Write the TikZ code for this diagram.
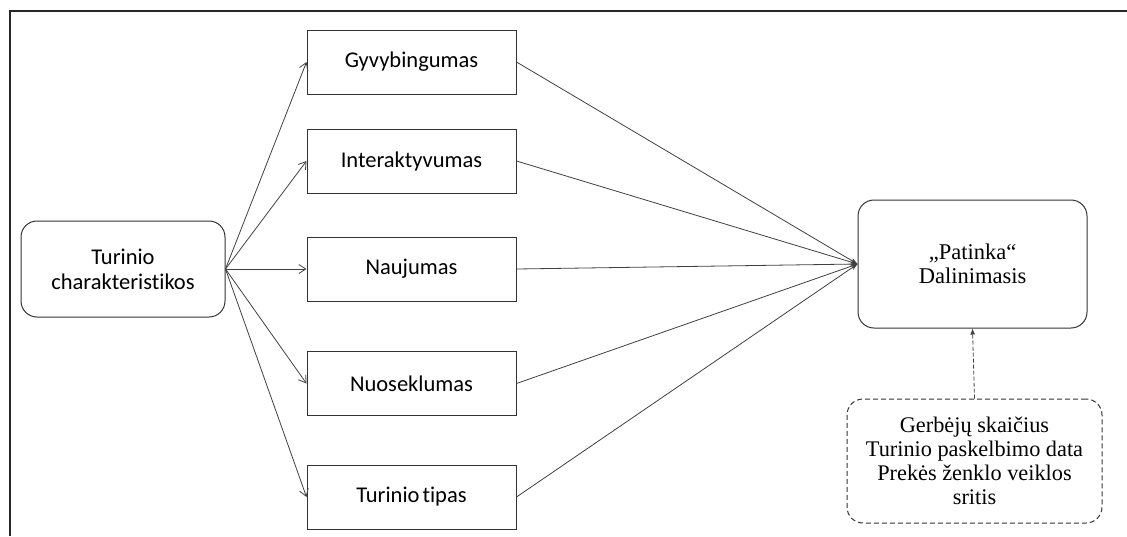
\documentclass[tikz,border=0pt]{standalone}
\usepackage{fontspec}
\setmainfont{Liberation Serif}
\newfontfamily\carlito[Ligatures=NoCommon]{Carlito}
\usetikzlibrary{arrows.meta}
\definecolor{edge}{HTML}{333333}
\definecolor{wire}{HTML}{404040}
\tikzset{
  sqbox/.style={draw=edge, line width=1pt, minimum width=209pt, minimum height=64pt,
    inner sep=0pt, font=\carlito\fontsize{22.5}{25}\selectfont},
  rbox/.style={draw=edge, line width=1pt, rounded corners=16pt, inner sep=0pt, align=center},
  fanout/.style={draw=wire, line width=0.8pt, -{Straight Barb[length=7pt,width=9pt]}},
  fanin/.style={draw=wire, line width=0.8pt, -{Stealth[length=7pt,width=5pt]}},
}
\begin{document}
\begin{tikzpicture}[x=1pt,y=-1pt]
\useasboundingbox (0,0) rectangle (1127,536);
% frame edges
\draw[line width=2pt, black!85] (9.5,536) -- (9.5,10.5) -- (1127,10.5);

% source node
\node[rbox, minimum width=204pt, minimum height=96pt,
      font=\carlito\fontsize{22.5}{25}\selectfont] (src) at (123,269)
      {Turinio\\charakteristikos};

% characteristics
\node[sqbox] (g) at (411.5,62)  {Gyvybingumas};
\node[sqbox] (i) at (411.5,161) {Interaktyvumas};
\node[sqbox] (n) at (411.5,269) {Naujumas};
\node[sqbox] (s) at (411.5,383.5) {Nuoseklumas};
\node[sqbox] (t) at (411.5,497) {Turinio\hspace{3pt}tipas};

% outcome
\node[rbox, minimum width=229pt, minimum height=128pt,
      font=\fontsize{22.5}{24.5}\selectfont] (p) at (972.5,264)
      {„Patinka“\\Dalinimasis};

% controls
\node[rbox, dashed, dash pattern=on 5pt off 3pt, minimum width=255pt, minimum height=124pt,
      font=\fontsize{22.3}{24}\selectfont] (c) at (974.5,461)
      {Gerbėjų skaičius\\Turinio paskelbimo data\\Prekės ženklo veiklos\\sritis};

% fan-out
\foreach \b in {g,i,n,s,t}
  \draw[fanout] (src.east) -- (\b.west);

% fan-in
\foreach \b in {g,i,n,s,t}
  \draw[fanin] (\b.east) -- (p.west);

% control arrow
\draw[draw=wire, line width=0.8pt, dashed, dash pattern=on 4pt off 2pt,
      -{Latex[length=6pt,width=5pt]}] (c.north) -- (p.south);
\end{tikzpicture}
\end{document}
